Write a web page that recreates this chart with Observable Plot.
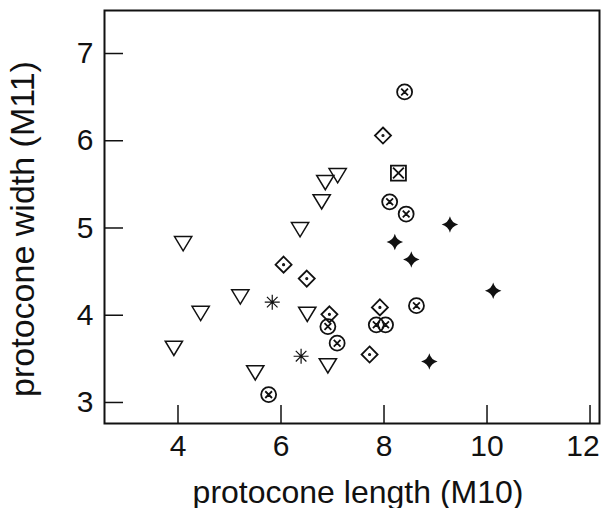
<!DOCTYPE html>
<html>
<head>
<meta charset="utf-8">
<script src="https://cdn.jsdelivr.net/npm/d3@7"></script>
<script src="https://cdn.jsdelivr.net/npm/@observablehq/plot@0.6"></script>
<style>
  html, body { margin: 0; padding: 0; background: #fff; }
  #chart svg { display: block; }
</style>
</head>
<body>
<div id="chart"></div>
<script>
// ---- Data (protocone length M10, protocone width M11) ----
const triangleLength = [7.10, 6.86, 6.79, 4.10, 6.37, 5.21, 4.44, 6.51, 3.92, 5.50, 6.91];
const triangleWidth  = [5.60, 5.52, 5.30, 4.82, 4.98, 4.21, 4.02, 4.01, 3.62, 3.34, 3.42];

const circleXLength = [8.40, 8.11, 8.43, 6.91, 7.09, 5.76, 7.85, 8.03, 8.63];
const circleXWidth  = [6.56, 5.30, 5.16, 3.87, 3.68, 3.09, 3.89, 3.89, 4.11];

const diamondLength = [7.98, 6.05, 6.50, 6.94, 7.92, 7.72];
const diamondWidth  = [6.06, 4.58, 4.42, 4.01, 4.09, 3.55];

const squareXLength = [8.28];
const squareXWidth  = [5.63];

const starLength = [9.28, 8.21, 8.53, 10.12, 8.88];
const starWidth  = [5.04, 4.84, 4.64, 4.28, 3.47];

const asteriskLength = [5.83, 6.39];
const asteriskWidth  = [4.15, 3.53];

const xTicks = [4, 6, 8, 10, 12];
const yTicks = [3, 4, 5, 6, 7];

const xLabel = "protocone length (M10)";
const yLabel = "protocone width (M11)";

// ---- Custom symbols ----
const rad = size => Math.sqrt(size / Math.PI);
const symTriangleDown = { draw(c, s) { const r = rad(s); const hw = 1.15 * r, hh = 0.95 * r;
  c.moveTo(-hw, -hh); c.lineTo(hw, -hh); c.lineTo(0, hh); c.closePath(); } };
const symCircleX = { draw(c, s) { const r = rad(s); const a = 0.45 * r;
  c.moveTo(r, 0); c.arc(0, 0, r, 0, 2 * Math.PI); c.closePath();
  c.moveTo(-a, -a); c.lineTo(a, a); c.moveTo(a, -a); c.lineTo(-a, a); } };
const symDiamondDot = { draw(c, s) { const r = rad(s); const d = 1.07 * r; const p = 0.7;
  c.moveTo(0, -d); c.lineTo(d, 0); c.lineTo(0, d); c.lineTo(-d, 0); c.closePath();
  c.moveTo(p, 0); c.arc(0, 0, p, 0, 2 * Math.PI); c.closePath(); } };
const symSquareX = { draw(c, s) { const r = rad(s); const h = 1.0 * r; const a = 0.72 * r;
  c.moveTo(-h, -h); c.lineTo(h, -h); c.lineTo(h, h); c.lineTo(-h, h); c.closePath();
  c.moveTo(-a, -a); c.lineTo(a, a); c.moveTo(a, -a); c.lineTo(-a, a); } };
const symStar4 = { draw(c, s) { const r = rad(s); const R = 1.1 * r; const k = 0.2 * R;
  c.moveTo(0, -R);
  c.quadraticCurveTo(k, -k, R, 0);
  c.quadraticCurveTo(k, k, 0, R);
  c.quadraticCurveTo(-k, k, -R, 0);
  c.quadraticCurveTo(-k, -k, 0, -R);
  c.closePath(); } };
const symAsterisk = { draw(c, s) { const r = rad(s); const L = 1.0 * r;
  for (let i = 0; i < 4; i++) { const t = i * Math.PI / 4;
    c.moveTo(-L * Math.cos(t), -L * Math.sin(t)); c.lineTo(L * Math.cos(t), L * Math.sin(t)); } } };

const pts = (xs, ys) => xs.map((x, i) => ({x, y: ys[i]}));

const W = 601, H = 508;
const mL = 104, mR = 2, mT = 10, mB = 85;
const innerW = W - mL - mR, innerH = H - mT - mB;
const ink = "#111";
const lastX = xTicks[xTicks.length - 1];

const chart = Plot.plot({
  width: W, height: H,
  marginLeft: mL, marginRight: mR, marginTop: mT, marginBottom: mB,
  style: { fontFamily: "'Liberation Sans', Arial, Helvetica, sans-serif", background: "#fff", color: ink },
  x: { domain: [2.573, 12.184] },
  y: { domain: [2.759, 7.493] },
  marks: [
    Plot.axisX(xTicks.slice(0, -1), { tickSize: 0, tickPadding: 11, fontSize: 30, tickFormat: "d", label: null }),
    Plot.axisX([lastX], { tickSize: 0, tickPadding: 11, fontSize: 30, tickFormat: "d", label: null, dx: -7 }),
    Plot.axisY(yTicks, { tickSize: 0, tickPadding: 11, fontSize: 30, tickFormat: "d", label: null }),
    Plot.tickX(xTicks, { x: d => d, insetTop: innerH - 18, stroke: ink, strokeWidth: 1.5 }),
    Plot.tickY(yTicks, { y: d => d, insetRight: innerW - 19, stroke: ink, strokeWidth: 1.5 }),
    Plot.frame({ stroke: ink, strokeWidth: 2 }),
    Plot.text([xLabel], { frameAnchor: "bottom", lineAnchor: "bottom", dy: 79, dx: 6, fontSize: 32, fill: ink }),
    Plot.text([yLabel], { frameAnchor: "left", textAnchor: "middle", lineAnchor: "bottom", rotate: -90, dx: -71, dy: 12, fontSize: 34, fill: ink }),
    Plot.dot(pts(triangleLength, triangleWidth), { x: "x", y: "y", r: 7.5, symbol: symTriangleDown, fill: "none", stroke: ink, strokeWidth: 1.5 }),
    Plot.dot(pts(circleXLength, circleXWidth), { x: "x", y: "y", r: 7.5, symbol: symCircleX, fill: "none", stroke: ink, strokeWidth: 1.8 }),
    Plot.dot(pts(diamondLength, diamondWidth), { x: "x", y: "y", r: 7.5, symbol: symDiamondDot, fill: "none", stroke: ink, strokeWidth: 1.8 }),
    Plot.dot(pts(squareXLength, squareXWidth), { x: "x", y: "y", r: 7.5, symbol: symSquareX, fill: "none", stroke: ink, strokeWidth: 1.8 }),
    Plot.dot(pts(starLength, starWidth), { x: "x", y: "y", r: 7.5, symbol: symStar4, fill: ink, stroke: "none" }),
    Plot.dot(pts(asteriskLength, asteriskWidth), { x: "x", y: "y", r: 7.5, symbol: symAsterisk, fill: "none", stroke: ink, strokeWidth: 1.2 })
  ]
});
document.getElementById("chart").appendChild(chart);
</script>
</body>
</html>
